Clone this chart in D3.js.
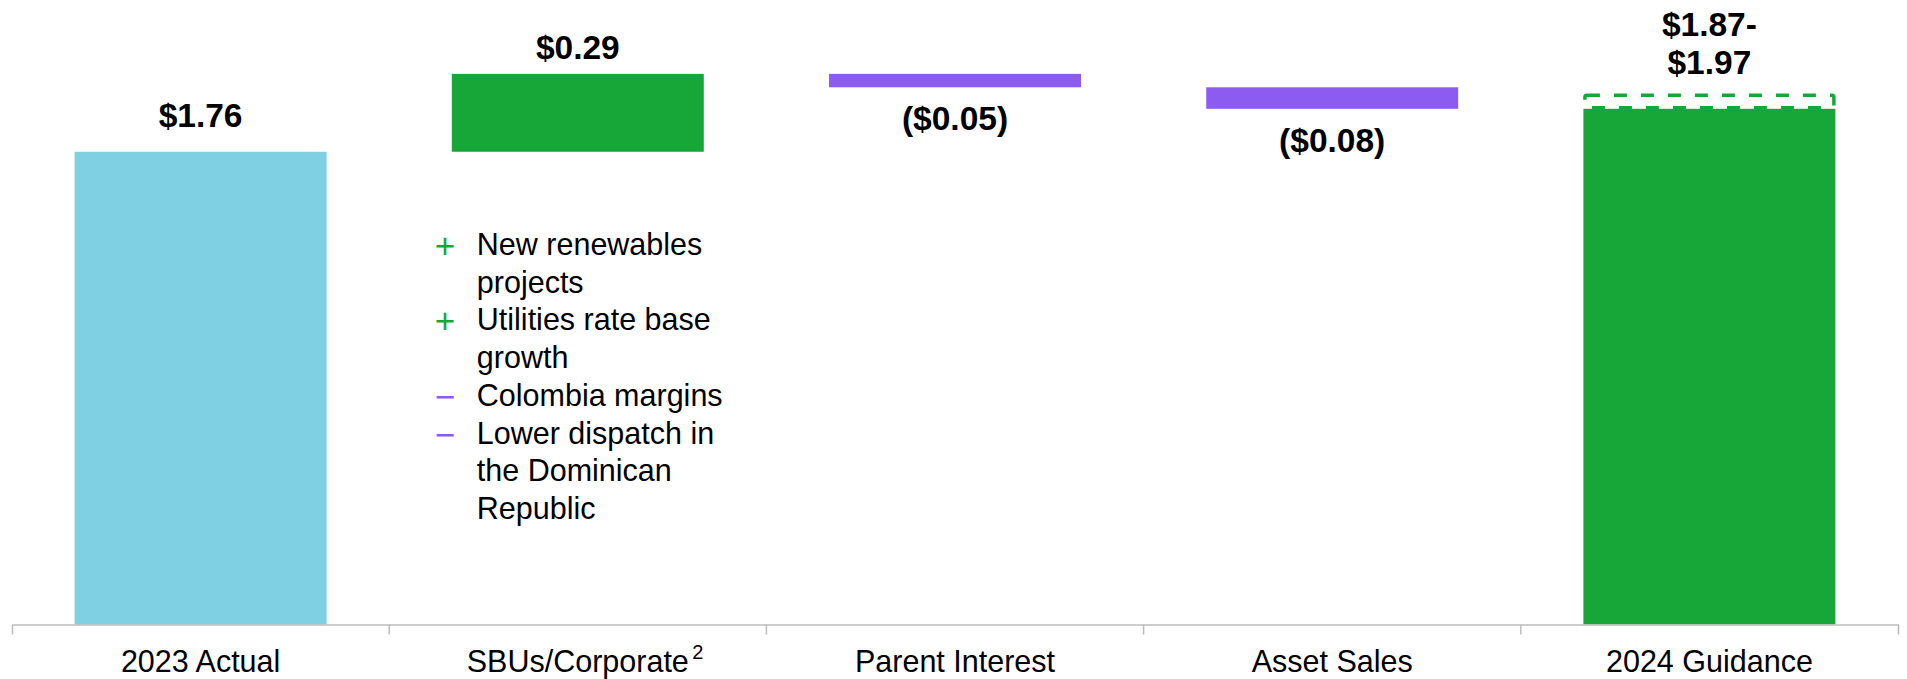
<!DOCTYPE html>
<html>
<head>
<meta charset="utf-8">
<script src="https://cdn.jsdelivr.net/npm/d3@7/dist/d3.min.js"></script>
<style>
  html, body { margin: 0; padding: 0; background: #ffffff; }
  svg { display: block; font-family: "Liberation Sans", Arial, Helvetica, sans-serif; }
</style>
</head>
<body>
<svg id="chart" width="1907" height="679"></svg>
<script>
// Adjusted EPS bridge, 2023 actual to 2024 guidance ($ per share)
const categories = ["2023 Actual", "SBUs/Corporate", "Parent Interest", "Asset Sales", "2024 Guidance"];
const kinds      = ["total", "delta", "delta", "delta", "range"];
const deltas     = [1.76, 0.29, -0.05, -0.08, null];
const guidanceLow  = 1.87;
const guidanceHigh = 1.97;
const valueLabels  = ["$1.76", "$0.29", "($0.05)", "($0.08)", "$1.87-\n$1.97"];
const superscripts = ["", "2", "", "", ""];

// Drivers listed under the SBUs/Corporate step
const driverSigns = ["+", "+", "\u2212", "\u2212"];
const driverLines = [
  ["New renewables", "projects"],
  ["Utilities rate base", "growth"],
  ["Colombia margins"],
  ["Lower dispatch in", "the Dominican", "Republic"]
];

const colors = {
  total: "#7fd0e3",
  up: "#17a739",
  down: "#8c5cf0",
  axis: "#bdbdbd",
  text: "#000000"
};

const W = 1907, H = 679;
const svg = d3.select("#chart");

// Build the floating segments of the waterfall
let running = 0;
const bars = categories.map((cat, i) => {
  if (kinds[i] === "total") {
    running = deltas[i];
    return { cat, i, y0: 0, y1: running, color: colors.total, kind: "total" };
  }
  if (kinds[i] === "delta") {
    const start = running;
    running += deltas[i];
    return { cat, i, y0: start, y1: running, color: deltas[i] >= 0 ? colors.up : colors.down, kind: "delta", value: deltas[i] };
  }
  const mid = (guidanceLow + guidanceHigh) / 2;
  return { cat, i, y0: 0, y1: mid, high: guidanceHigh, color: colors.up, kind: "range" };
});

const x = d3.scaleBand()
  .domain(categories)
  .range([12, 1898])
  .paddingInner(0.332)
  .paddingOuter(0.166);

const y = d3.scaleLinear()
  .domain([0, 2.3])
  .range([624.5, 624.5 - 2.3 * 268.6]);

// Bars
svg.append("g").selectAll("rect")
  .data(bars)
  .join("rect")
  .attr("x", d => x(d.cat))
  .attr("width", x.bandwidth())
  .attr("y", d => y(Math.max(d.y0, d.y1)))
  .attr("height", d => Math.abs(y(d.y0) - y(d.y1)))
  .attr("fill", d => d.color);

// Dashed outline marking the upper half of the guidance range
bars.filter(d => d.kind === "range").forEach(d => {
  svg.append("rect")
    .attr("x", x(d.cat) + 1.5)
    .attr("width", x.bandwidth() - 3)
    .attr("y", y(d.high))
    .attr("height", y(d.y1) - y(d.high) - 1)
    .attr("rx", 2)
    .attr("fill", "none")
    .attr("stroke", colors.up)
    .attr("stroke-width", 3.5)
    .attr("stroke-dasharray", "13,14");
});

// Value labels
const labels = svg.append("g")
  .attr("font-weight", "bold")
  .attr("font-size", "33.5px")
  .attr("fill", colors.text)
  .attr("text-anchor", "middle");

bars.forEach(d => {
  const cx = x(d.cat) + x.bandwidth() / 2;
  const lines = valueLabels[d.i].split("\n");
  let baseline;
  if (d.kind === "total") baseline = y(d.y1) - 25;
  else if (d.kind === "delta" && d.value >= 0) baseline = y(d.y1) - 15;
  else if (d.kind === "delta") baseline = y(d.y1) + 43;
  else baseline = y(d.high) - 21;
  const lh = 38.5;
  lines.forEach((ln, k) => {
    labels.append("text")
      .attr("x", cx)
      .attr("y", baseline - (lines.length - 1 - k) * lh)
      .text(ln);
  });
});

// Category axis
const axisG = svg.append("g")
  .attr("transform", `translate(0,${y(0)})`)
  .call(d3.axisBottom(x).tickSize(0).tickPadding(25.5).tickSizeOuter(10));

axisG.select(".domain")
  .attr("stroke", colors.axis)
  .attr("stroke-width", 1.5);

axisG.selectAll(".tick text")
  .attr("font-family", "'Liberation Sans', Arial, sans-serif")
  .attr("font-size", "30.5px")
  .attr("fill", colors.text);

// Separators between categories
const step = x.step();
const boundaries = categories.slice(1).map(c => x(c) - step * x.paddingInner() / 2);
axisG.selectAll("line.sep")
  .data(boundaries)
  .join("line")
  .attr("class", "sep")
  .attr("x1", d => d).attr("x2", d => d)
  .attr("y1", 0).attr("y2", 10)
  .attr("stroke", colors.axis)
  .attr("stroke-width", 1.5);

// Footnote markers on category labels
axisG.selectAll(".tick").each(function(c) {
  const i = categories.indexOf(c);
  if (!superscripts[i]) return;
  const t = d3.select(this).select("text");
  const w = t.node().getComputedTextLength();
  d3.select(this).append("text")
    .attr("x", w / 2 + 9)
    .attr("y", 34)
    .attr("font-family", "'Liberation Sans', Arial, sans-serif")
    .attr("font-size", "20px")
    .attr("fill", colors.text)
    .text(superscripts[i]);
});

// Driver list beneath the SBUs/Corporate step
const sbuX = x("SBUs/Corporate");
const notes = svg.append("g")
  .attr("font-size", "30.5px")
  .attr("fill", colors.text);
let lineIdx = 0;
const firstBaseline = 255, noteLH = 37.7;
driverLines.forEach((lines, k) => {
  notes.append("text")
    .attr("x", sbuX - 17)
    .attr("y", firstBaseline + lineIdx * noteLH + 3)
    .attr("fill", driverSigns[k] === "+" ? colors.up : colors.down)
    .attr("font-size", "35px")
    .text(driverSigns[k]);
  lines.forEach(ln => {
    notes.append("text")
      .attr("x", sbuX + 25)
      .attr("y", firstBaseline + lineIdx * noteLH)
      .text(ln);
    lineIdx++;
  });
});
</script>
</body>
</html>
